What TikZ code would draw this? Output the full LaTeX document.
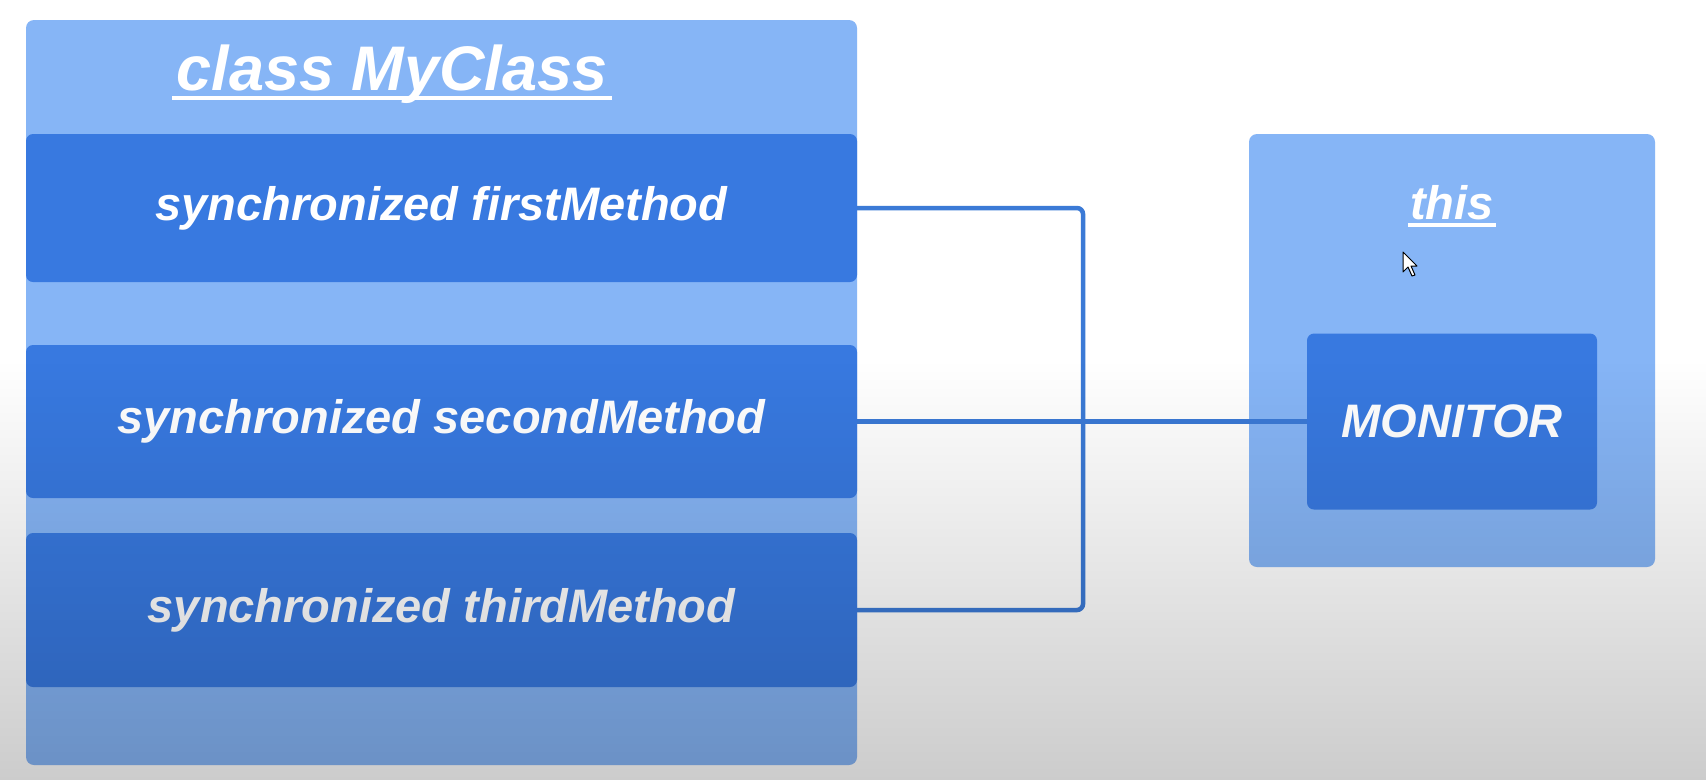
\documentclass[tikz,border=0pt]{standalone}
\usepackage{fontspec}
\setmainfont{Liberation Sans}
\usetikzlibrary{fadings}
\definecolor{lightbox}{HTML}{86B5F6}
\definecolor{methodbox}{HTML}{3879E0}
\definecolor{connblue}{HTML}{3B7AD6}
\tikzfading[name=shadefade, top color=transparent!100, bottom color=transparent!80]
\begin{document}
\begin{tikzpicture}[x=1pt,y=-1pt,
  panel/.style={fill=lightbox, rounded corners=8pt, draw=none, inner sep=0pt},
  methodnode/.style={fill=methodbox, rounded corners=7pt, minimum width=831pt, text=white,
    font=\fontsize{47}{56}\selectfont\bfseries\itshape, inner sep=0pt},
  conn/.style={draw=connblue, line width=4.5pt, rounded corners=6pt},
  lbl/.style={text=white, inner sep=0pt},
  uline/.style={draw=white, line width=4pt}
]
\useasboundingbox (0,0) rectangle (1706,780);
\fill[white] (0,0) rectangle (1706,780);

% class panel
\node[panel, minimum width=831pt, minimum height=745pt] (cls) at (441.5,392.5) {};
\node[lbl, font=\fontsize{63}{70}\selectfont\bfseries\itshape, anchor=base] (title) at (392,90) {class MyClass};
\draw[uline] ([xshift=-4pt,yshift=-8pt]title.base west) -- ([xshift=4pt,yshift=-8pt]title.base east);

% methods
\node[methodnode, minimum height=148pt] (m1) at (441.5,208) {synchronized firstMethod};
\node[methodnode, minimum height=153pt] (m2) at (441.5,421.5) {synchronized secondMethod};
\node[methodnode, minimum height=154pt] (m3) at (441.5,610) {synchronized thirdMethod};

% this panel
\node[panel, minimum width=406pt, minimum height=433pt] (thisp) at (1452,350.5) {};
\node[lbl, font=\fontsize{47}{56}\selectfont\bfseries\itshape, anchor=base] (thislbl) at (1452,219) {this};
\draw[uline] ([xshift=-2pt,yshift=-6pt]thislbl.base west) -- ([xshift=2pt,yshift=-6pt]thislbl.base east);
\node[methodnode, minimum width=290pt, minimum height=176pt] (mon) at (1452,421.5) {MONITOR};

% connectors
\coordinate (jn) at (1083,421.5);
\draw[conn] (m1.east) -| (jn) |- (m3.east);
\draw[conn] (m2.east) -- (mon.west);

% mouse cursor
\filldraw[fill=white, draw=black, line width=1pt, line join=round, shift={(1403,252)}]
  (0,0) -- (0,20) -- (5,15) -- (9,24) -- (12,23) -- (8,14) -- (14,14) -- cycle;

% bottom shading
\fill[black, path fading=shadefade] (0,360) rectangle (1706,780);
\end{tikzpicture}
\end{document}
